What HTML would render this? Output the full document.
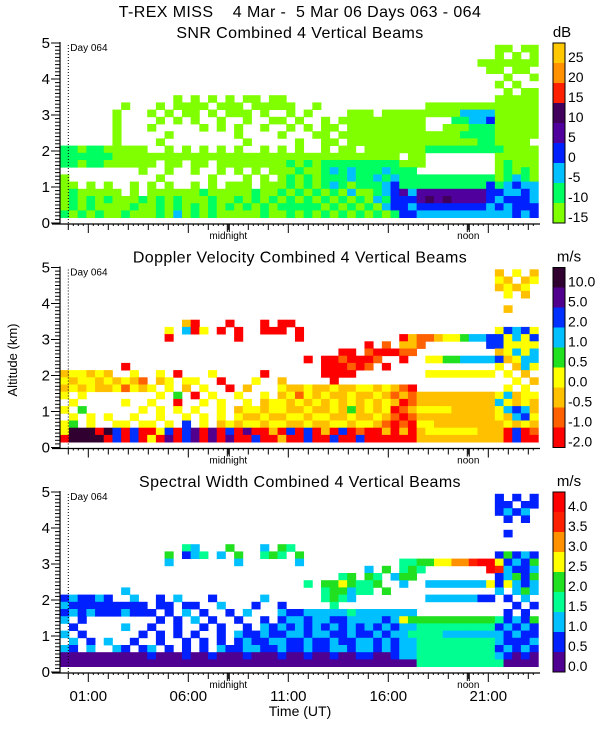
<!DOCTYPE html>
<html><head><meta charset="utf-8"><title>T-REX MISS radar</title>
<style>
html,body{margin:0;padding:0;background:#fff;}
svg{display:block;font-family:"Liberation Sans",sans-serif;}
text{white-space:pre;}
</style></head>
<body>
<svg id="chart" width="600" height="750" viewBox="0 0 600 750" xmlns="http://www.w3.org/2000/svg" xml:space="preserve">
<rect x="0" y="0" width="600" height="750" fill="#fff"/>
<text x="300" y="17" font-size="16" text-anchor="middle" letter-spacing="0.4">T-REX MISS    4 Mar -  5 Mar 06 Days 063 - 064</text>
<text x="0" y="0" font-size="13" text-anchor="middle" transform="translate(17,360) rotate(-90)">Altitude (km)</text>
<text x="300" y="716" font-size="14" text-anchor="middle">Time (UT)</text>
<g id="layer"></g>
</svg>
<script>
// ---- data ----
const timeStart = -0.4;
const timeEnd = 23.5;
const altBase = 0.15;
const altStep = 0.2;
const hourTicks = [1, 6, 11, 16, 21];
const hourTickLabels = ['01:00', '06:00', '11:00', '16:00', '21:00'];
const altTicks = [0, 1, 2, 3, 4, 5];
const localMarks = [8, 20];
const localMarkLabels = ['midnight', 'noon'];
const dayMarkHour = 0;
const panelTitles = ['SNR Combined 4 Vertical Beams', 'Doppler Velocity Combined 4 Vertical Beams', 'Spectral Width Combined 4 Vertical Beams'];
const panelUnits = ['dB', 'm/s', 'm/s'];
const snrLabels = ['-15', '-10', '-5', '0', '5', '10', '15', '20', '25'];
const dopLabels = ['-2.0', '-1.0', '-0.5', '0.0', '0.5', '1.0', '2.0', '5.0', '10.0'];
const widLabels = ['0.0', '0.5', '1.0', '1.5', '2.0', '2.5', '3.0', '3.5', '4.0'];
const snrColors = ['#80ff00', '#00ff60', '#00c0ff', '#0020ff', '#50009c', '#40005c', '#ff2000', '#ff9000', '#ffc800'];
const dopColors = ['#ff0000', '#ff6000', '#ffc000', '#ffff00', '#20e020', '#00c0ff', '#0030ff', '#50008c', '#300030'];
const widColors = ['#500090', '#0020ff', '#00c0ff', '#00ff90', '#20e020', '#ffff00', '#ff9000', '#ff2000', '#ff0000'];
// rows top (4.75-4.95 km) to bottom (0.15-0.35 km); '.' = no data, digit = colour bin
const snrRows = [
"..... ..... ..... ..... ..... ..... ..... ..... ..... ..... 00.00",
"..... ..... ..... ..... ..... ..... ..... ..... ..... ..... 0.0.0",
"..... ..... ..... ..... ..... ..... ..... ..... ..... ...00 00000",
"..... ..... ..... ..... ..... ..... ..... ..... ..... ....0 0.00.",
"..... ..... ..... ..... ..... ..... ..... ..... ..... ..... .0..0",
"..... ..... ..... ..... ..... ..... ..... ..... ..... ..... 0.0..",
"..... ..... ..... ..... ..... ..... ..... ..... ..... ..... .0.00",
"..... ..... ...0. 0.0.0 .00.0 0.... ..... ..... ..... ..... 00000",
"..... ..0.. .0.00 00.00 0.000 00..0 ..... ..... ..000 00000 00000",
"..... .0... 0.0.0 0.0.0 00.0. .0.0. ...00 0.000 00000 02222 00000",
"..... .0... .0.0. 0..0. .0..0 0.0.. 0.000 00000 00... 11223 00000",
"..... .0... 0.... .0.0. 0..0. .0.0. 00.00 00000 00..0 00111 00000",
"..... .0... ..0.. ..... 0.... 0...0 0.000 00000 00000 01111 00000",
"..... .0... .0... ..... .0... ..0.. 00.00 00000 00000 00011 0000.",
"11011 00000 ..0.0 .0.0. 0..0. 0.0.. 0.00. 00000 00111 11111 10000",
"11111 10000 00000 00000 00000 00000 00000 0000. 00... ..... 00000",
"11011 00000 0.00. 00.00 00000 01010 11111 11110 00... ..... 01000",
"..... ....0 ..0.. 0..0. 0.0.0 00100 12121 11211 1.... ..... 01010",
"0.... ..... .0... ..0.. .0.0. 01010 11121 12121 11111 11111 01210",
"00.0. 0..0. 0.0.. 0.0.0 00.00 01010 12101 11231 11111 11113 12322",
"01000 00.0. 00000 01000 00100 10101 01020 01234 24444 44443 32232",
"01010 10001 01010 00100 10101 01010 10101 02133 34545 44443 23332",
"01010 00010 01010 10101 01010 11111 01010 10233 23333 33332 32333",
"10101 00100 01020 10100 00010 01010 10101 01013 32222 22222 22323"
];
const dopRows = [
"..... ..... ..... ..... ..... ..... ..... ..... ..... ..... 2.3.2",
"..... ..... ..... ..... ..... ..... ..... ..... ..... ..... 32.23",
"..... ..... ..... ..... ..... ..... ..... ..... ..... ..... 2323.",
"..... ..... ..... ..... ..... ..... ..... ..... ..... ..... .3.2.",
"..... ..... ..... ..... ..... ..... ..... ..... ..... ..... .....",
"..... ..... ..... ..... ..... ..... ..... ..... ..... ..... .2...",
"..... ..... ..... ..... ..... ..... ..... ..... ..... ..... .....",
"..... ..... ....2 0...0 ...0. 00... ..... ..... ..... ..... .....",
"..... ..... ..3.5 03.0. 0..00 0.0.. ..... ..... ..... ..... 36563",
"..... ..... ..0.. ..... 0.... ..0.. ..... ....0 21123 34556 63536",
"..... ..... ..... ..... ..... ..... ..... 0.1.2 21... ....6 63333",
"..... ..... ..... ..... ..... ..... ..00. 10001 1.... ..... 23535",
"..... ..... ..... ..... ..... ...0. 00100 01..0 ..334 45555 62355",
"..... ..0.. ..... ..... ..... ..... 00010 1.0.. ..... ..... 3.253",
"23323 2..3. .3.0. ..3.. ...0. ..... 0000. ..... ..333 33333 .3.2.",
"32332 32321 .23.3 3..0. ..3.. 2.... .0... ..... ..... ..... ..3.2",
"23232 23132 3.3.2 .3..0 .2... 32232 23223 32321 0.... ..... .3.3.",
"3.3.. ..... .3.4. 0.3.. 3..3. 23132 32232 23212 12222 22222 35233",
".3... ..3.. 3..0. .3.3. .3.23 32323 23232 32320 12222 22222 53232",
"3.4.. ....3 .3.3. 3..3. 23323 32232 23242 32301 23333 22222 35652",
".3.3. 3..3. .3..3 .3.3. 32232 23323 32232 23210 12222 22222 32563",
"34.3. .33.3 3.3.6 .3.23 23323 32232 23323 32101 03322 22222 23232",
"38880 86060 03606 70706 07002 06060 20601 00202 02333 33322 20601",
"08888 06060 30706 70707 00600 20060 06006 00000 02222 22222 20600"
];
const widRows = [
"..... ..... ..... ..... ..... ..... ..... ..... ..... ..... 1.1.1",
"..... ..... ..... ..... ..... ..... ..... ..... ..... ..... 11.11",
"..... ..... ..... ..... ..... ..... ..... ..... ..... ..... 1212.",
"..... ..... ..... ..... ..... ..... ..... ..... ..... ..... .1.1.",
"..... ..... ..... ..... ..... ..... ..... ..... ..... ..... .....",
"..... ..... ..... ..... ..... ..... ..... ..... ..... ..... .1...",
"..... ..... ..... ..... ..... ..... ..... ..... ..... ..... .....",
"..... ..... ....3 2...4 ...2. 43... ..... ..... ..... ..... .....",
"..... ..... ..4.1 23.2. 4..34 3.4.. ..... ..... ..... ..... 14121",
"..... ..... ..2.. ..... 2.... ..2.. ..... ....3 34455 66788 51214",
"..... ..... ..... ..... ..... ..... ..... 2.4.3 43... ....8 72112",
"..... ..... ..... ..... ..... ..... ..34. 43.24 4.... ..... 12414",
"..... ..... ..... ..... ..... ...3. 44543 34..2 ..222 22225 15212",
"..... ..2.. ..... ..... ..... ..... 34423 3.4.. ..... ..... 2.242",
"12112 1..2. .1.2. ..1.. ...2. ..... 3432. ..... ..222 22211 .1.2.",
"21111 11111 .11.1 1..2. ..1.. 1.... .3... ..... ..... ..... ..1.1",
"12121 11211 1.1.2 .1..1 .2... 21122 22232 22222 2.... ..... .1.1.",
"2.1.. ..... .1.1. 2.1.. 1..1. 12212 21122 22125 44444 44444 31214",
".1... ..2.. 1..1. .1.1. .1.21 21212 12121 21212 23333 33333 12121",
"2.1.. ....1 .1.1. 1..1. 21121 12212 21121 12122 33332 22222 21211",
".2.1. 2..1. .1..1 .1.1. 12112 21121 12112 21212 23333 33333 21112",
"21.2. .21.1 2.1.1 .1.21 12211 21121 12212 21212 23333 33333 12121",
"00000 00000 10001 00100 01000 10010 01001 10012 23333 33333 21010",
"00000 00000 00000 00000 00000 00000 00000 00000 03333 33333 30000"
];

// ---- layout ----
const NS = 'http://www.w3.org/2000/svg';
const layer = document.getElementById('layer');
const axisY = [224, 448.5, 673];
const plotLeft = 60, plotRight = 540;
const cbX = 553, cbW = 12;
function xScale(t) { return 68.3 + 20 * t; }
function yScale(a, p) { return axisY[p] - 1 - 36 * a; }
function mk(tag, attrs, parent) {
  const e = document.createElementNS(NS, tag);
  for (const k in attrs) e.setAttribute(k, attrs[k]);
  (parent || layer).appendChild(e);
  return e;
}

const panels = [
  { rows: snrRows, colors: snrColors, labels: snrLabels, key: 'snr' },
  { rows: dopRows, colors: dopColors, labels: dopLabels, key: 'doppler' },
  { rows: widRows, colors: widColors, labels: widLabels, key: 'width' }
];

panels.forEach(function (pd, p) {
  const g = mk('g', {});
  
  
  const ay = axisY[p];

  const tt = mk('text', { x: 300, y: ay - 186, 'font-size': 16, 'text-anchor': 'middle', 'letter-spacing': '0.4' }, g);
  tt.textContent = panelTitles[p];
  
  

  const cells = mk('g', {}, g);
  
  
  const nRows = pd.rows.length;
  pd.rows.forEach(function (rowStr, ri) {
    const s = rowStr.replace(/ /g, '');
    const nCols = s.length;
    const dt = (timeEnd - timeStart) / nCols;
    const altLo = altBase + (nRows - 1 - ri) * altStep;
    const y1 = yScale(altLo + altStep, p), y2 = yScale(altLo, p);
    for (let c = 0; c < nCols; c++) {
      const ch = s[c];
      if (ch === '.') continue;
      const x1 = xScale(timeStart + c * dt), x2 = xScale(timeStart + (c + 1) * dt);
      const r = mk('rect', { x: x1.toFixed(2), y: y1.toFixed(2), width: (x2 - x1 + 0.4).toFixed(2), height: (y2 - y1 + 0.4).toFixed(2), fill: pd.colors[+ch] }, cells);
      
      
    }
  });

  const dm = mk('line', { x1: xScale(dayMarkHour), x2: xScale(dayMarkHour), y1: yScale(5, p) + 2, y2: ay, stroke: '#000', 'stroke-width': 1, 'stroke-dasharray': '1,2' }, g);
  
  
  const dl = mk('text', { x: xScale(dayMarkHour) + 2, y: yScale(5, p) + 8, 'font-size': 10 }, g);
  dl.textContent = 'Day 064';
  
  

  const ax = mk('g', { stroke: '#000', 'stroke-width': 1.2 }, g);
  
  
  mk('line', { x1: plotLeft, x2: plotLeft, y1: yScale(5, p) - 1, y2: ay }, ax);
  mk('line', { x1: plotLeft - 8, x2: plotRight, y1: ay, y2: ay }, ax);
  for (let a = 0; a <= 50; a++) {
    const yy = yScale(a / 10, p);
    const major = a % 10 === 0;
    mk('line', { x1: major ? plotLeft - 9 : plotLeft - 5, x2: plotLeft, y1: yy, y2: yy, 'stroke-width': 1 }, ax);
  }
  altTicks.forEach(function (a) {
    const lt = mk('text', { x: 50, y: yScale(a, p) + 5, 'font-size': 15, 'text-anchor': 'end', stroke: 'none', fill: '#000' }, g);
    lt.textContent = String(a);
    
    
  });
  for (let q = 0; q <= 93; q++) {
    const t = q / 4;
    const xx = xScale(t);
    if (xx > plotRight) break;
    const isHour = q % 4 === 0;
    const isMajor = isHour && hourTicks.indexOf(t) >= 0;
    mk('line', { x1: xx, x2: xx, y1: ay, y2: ay + (isMajor ? 9 : (isHour ? 6 : 2)), 'stroke-width': 1 }, ax);
  }
  localMarks.forEach(function (t, i) {
    const xx = xScale(t);
    mk('line', { x1: xx - 1, x2: xx - 1, y1: ay, y2: ay + 8, 'stroke-width': 1 }, ax);
    mk('line', { x1: xx + 1, x2: xx + 1, y1: ay, y2: ay + 8, 'stroke-width': 1 }, ax);
    const ml = mk('text', { x: xx, y: ay + 15, 'font-size': 10, 'text-anchor': 'middle' }, g);
    ml.textContent = localMarkLabels[i];
    
    
  });
  if (p === 2) {
    hourTicks.forEach(function (t, i) {
      const hl = mk('text', { x: xScale(t), y: ay + 28, 'font-size': 15, 'text-anchor': 'middle' }, g);
      hl.textContent = hourTickLabels[i];
      
      
    });
  }

  const cb = mk('g', {}, g);
  
  
  const cbTop = yScale(5, p), cbBot = ay - 1;
  const n = pd.colors.length;
  const bh = (cbBot - cbTop) / n;
  pd.colors.forEach(function (col, i) {
    const yb = cbBot - i * bh;
    const br = mk('rect', { x: cbX, y: (yb - bh).toFixed(2), width: cbW, height: bh.toFixed(2), fill: col }, cb);
    
    
    const bl = mk('text', { x: cbX + cbW + 3, y: yb - 1, 'font-size': 14 }, cb);
    bl.textContent = pd.labels[i];
    
    
  });
  mk('rect', { x: cbX, y: cbTop, width: cbW, height: cbBot - cbTop, fill: 'none', stroke: '#000', 'stroke-width': 1 }, cb);
  const ut = mk('text', { x: p === 0 ? 562 : 569, y: cbTop - 6, 'font-size': 15, 'text-anchor': 'middle' }, cb);
  ut.textContent = panelUnits[p];
  
  
});
</script>
</body></html>
